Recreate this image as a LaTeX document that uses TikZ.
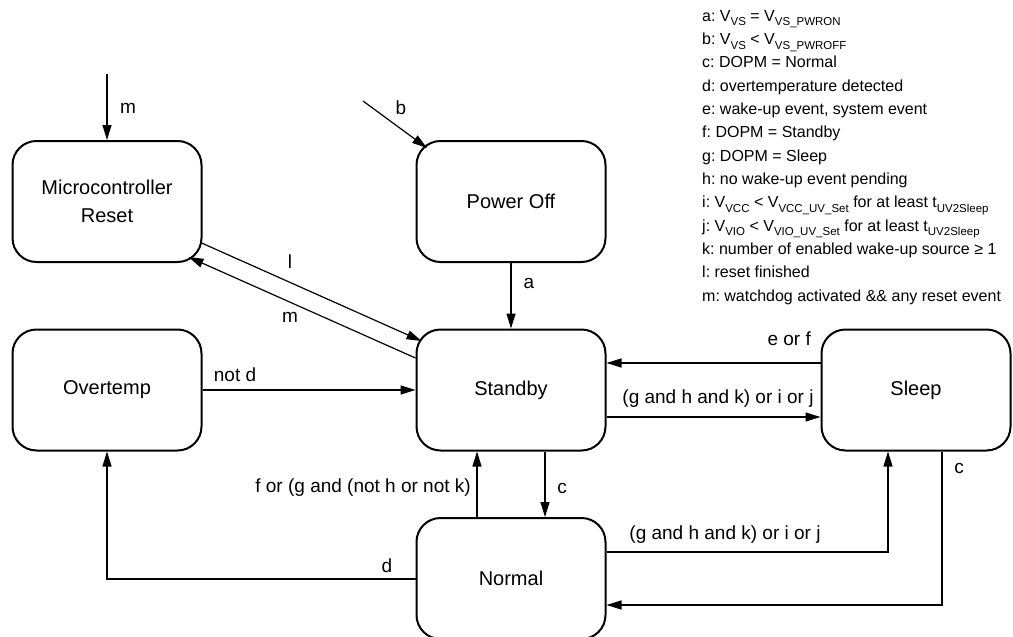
\documentclass[tikz,border=0pt]{standalone}
\usepackage{fontspec}
\setmainfont{Liberation Sans}
\usepackage{tikz}
\usetikzlibrary{arrows.meta}
\frenchspacing
\newcommand{\lsub}[1]{\raisebox{-0.28em}{\fontsize{11.5}{11.5}\selectfont #1}}

\tikzset{
  mode/.style = {draw, line width = 2pt, rounded corners = 24pt,
    minimum width = 189pt, minimum height = 121pt, align = center,
    font = \fontsize{20}{28}\selectfont},
  arr/.style = {-{Triangle[length = 15pt, width = 9pt]}, line width = 1.2pt},
  lbl/.style = {inner sep = 0pt, font = \fontsize{19}{22}\selectfont},
  legend/.style = {inner sep = 0pt, align = left,
    font = \fontsize{16}{23.33}\selectfont}
}

\begin{document}
\begin{tikzpicture}[x = 1pt, y = -1pt]
  \useasboundingbox (0,0) rectangle (1013,637);

  \node[mode] (mcu) at (107,201.5) {Microcontroller\\Reset};
  \node[mode] (poweroff) at (511,201.5) {Power Off};
  \node[mode] (overtemp) at (107,390) {Overtemp};
  \node[mode] (standby) at (511,390) {Standby};
  \node[mode] (sleep) at (916,390) {Sleep};
  \node[mode] (normal) at (511,578.5) {Normal};

  \coordinate (mstart) at (107,74);
  \coordinate (bstart) at (363,101);

  \draw[arr] (mstart) -- (mcu);
  \node[lbl] (lm) at (128,108) {m};

  \draw[arr] (bstart) -- ([xshift = 11.5pt, yshift = -8pt]poweroff.north west);
  \node[lbl] (lb) at (401,108) {b};

  \draw[arr] (poweroff) -- (standby);
  \node[lbl] (la) at (529,283) {a};

  \draw[arr] ([xshift = -2pt, yshift = -41pt]mcu.east)
    -- ([xshift = 6pt, yshift = -12.5pt]standby.north west);
  \node[lbl] (ll) at (290,262) {l};

  \draw[arr] ([yshift = 32pt]standby.west)
    -- ([xshift = -14pt, yshift = 6pt]mcu.south east);
  \node[lbl] (lm2) at (290,317) {m};

  \draw[arr] (overtemp) -- (standby);
  \node[lbl] (lnotd) at (235,375) {not d};

  \draw[arr] ([yshift = 27pt]sleep.west) -- ([yshift = 27pt]standby.east);
  \node[lbl, anchor = east] (leorf) at (811,339) {e or f};

  \draw[arr] ([yshift = -27pt]standby.east) -- ([yshift = -27pt]sleep.west);
  \node[lbl] (lsleep1) at (718,399) {(g and h and k) or i or j};

  \draw[arr] ([xshift = 34pt]standby.south) -- ([xshift = 34pt]normal.north);
  \node[lbl] (lc1) at (562,488) {c};

  \draw[arr] ([xshift = -34pt]normal.north) -- ([xshift = -34pt]standby.south);
  \node[lbl, anchor = east] (lstby) at (471,488) {f or (g and (not h or not k)};

  \draw[arr] ([yshift = 26.5pt]normal.east) -| ([xshift = -28pt]sleep.south);
  \node[lbl] (lsleep2) at (725,535) {(g and h and k) or i or j};

  \draw[arr] ([yshift = -0.5pt]normal.west) -| (overtemp.south);
  \node[lbl] (ld) at (387,566) {d};

  \draw[arr] ([xshift = 26pt]sleep.south) |- ([yshift = -26.5pt]normal.east);
  \node[lbl] (lc2) at (959,468) {c};

  \node[legend, anchor = north west] (legend) at (702,10) {%
    a: V\lsub{VS} = V\lsub{VS\_PWRON}\\
    b: V\lsub{VS} < V\lsub{VS\_PWROFF}\\
    c: DOPM = Normal\\
    d: overtemperature detected\\
    e: wake-up event, system event\\
    f: DOPM = Standby\\
    g: DOPM = Sleep\\
    h: no wake-up event pending\\
    i: V\lsub{VCC} < V\lsub{VCC\_UV\_Set} for at least t\lsub{UV2Sleep}\\
    j: V\lsub{VIO} < V\lsub{VIO\_UV\_Set} for at least t\lsub{UV2Sleep}\\
    k: number of enabled wake-up source ≥ 1\\
    l: reset finished\\
    m: watchdog activated \&\& any reset event};
\end{tikzpicture}
\end{document}
